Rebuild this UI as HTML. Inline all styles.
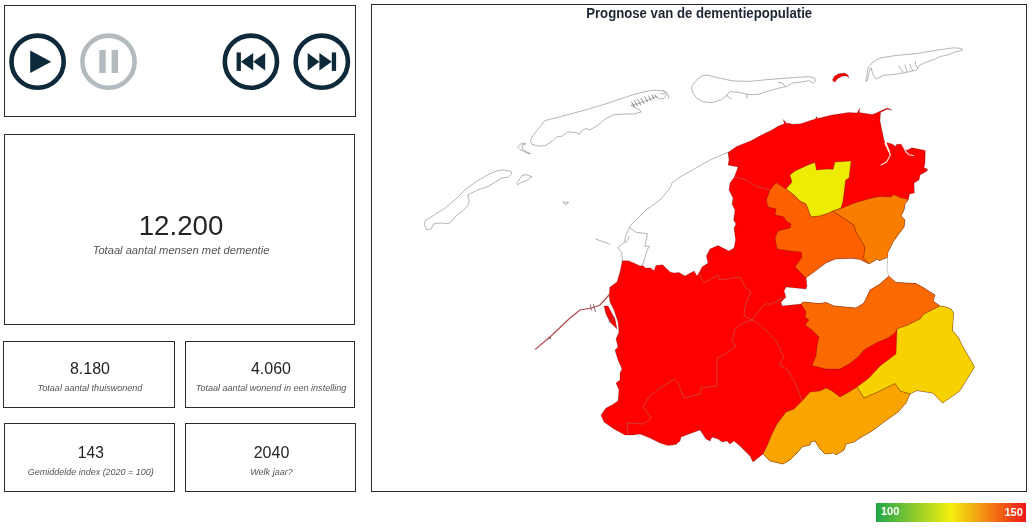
<!DOCTYPE html>
<html><head><meta charset="utf-8">
<style>
html,body{margin:0;padding:0;background:#fff;}
body{width:1032px;height:530px;position:relative;overflow:hidden;font-family:"Liberation Sans",Arial,sans-serif;color:#252423;}
.box{position:absolute;border:1px solid #2b2b2b;box-sizing:border-box;background:#fff;}
.val{position:absolute;left:0;right:0;text-align:center;color:#252423;white-space:nowrap;}
.lab{position:absolute;left:0;right:0;text-align:center;font-style:italic;color:#555;white-space:nowrap;}
svg{position:absolute;left:0;top:0;}
</style></head><body>
<div class="box" style="left:4px;top:5px;width:352px;height:112px;"></div>
<div class="box" style="left:4px;top:134px;width:351px;height:191px;">
  <div class="val" style="top:74.5px;left:3px;font-size:27.7px;line-height:32px;">12.200</div>
  <div class="lab" style="top:108.4px;left:3px;font-size:11.15px;line-height:14px;">Totaal aantal mensen met dementie</div>
</div>
<div class="box" style="left:3px;top:341px;width:172px;height:67px;">
  <div class="val" style="top:16.7px;left:2px;font-size:16px;line-height:20px;">8.180</div>
  <div class="lab" style="top:40px;left:2px;font-size:9.05px;line-height:12px;">Totaal aantal thuiswonend</div>
</div>
<div class="box" style="left:185px;top:341px;width:170px;height:67px;">
  <div class="val" style="top:16.7px;left:2px;font-size:16px;line-height:20px;">4.060</div>
  <div class="lab" style="top:40px;left:2px;font-size:9.05px;line-height:12px;">Totaal aantal wonend in een instelling</div>
</div>
<div class="box" style="left:4px;top:423px;width:171px;height:69px;">
  <div class="val" style="top:18.7px;left:2.6px;font-size:15.6px;line-height:20px;">143</div>
  <div class="lab" style="top:42px;left:2.6px;font-size:8.97px;line-height:12px;">Gemiddelde index (2020 = 100)</div>
</div>
<div class="box" style="left:185px;top:423px;width:171px;height:69px;">
  <div class="val" style="top:18.7px;left:2px;font-size:16px;line-height:20px;">2040</div>
  <div class="lab" style="top:42px;left:2px;font-size:9.05px;line-height:12px;">Welk jaar?</div>
</div>
<div class="box" style="left:371px;top:4px;width:656px;height:488px;"></div>
<div style="position:absolute;left:371px;width:656px;top:4.9px;text-align:center;font-weight:bold;font-size:14px;line-height:16px;color:#1c2733;"><span style="display:inline-block;transform:scaleX(0.94);transform-origin:50% 50%;position:relative;left:0.6px;">Prognose van de dementiepopulatie</span></div>
<div style="position:absolute;left:876px;top:503px;width:150px;height:18.5px;background:linear-gradient(90deg,#1fa64a 0%,#f5ee0e 50%,#f01818 100%);"></div>
<div style="position:absolute;left:881px;top:503px;font-size:11px;line-height:16px;font-weight:bold;color:#fff;">100</div>
<div style="position:absolute;right:9.2px;top:504px;font-size:11px;line-height:16px;font-weight:bold;color:#fff;">150</div>
<svg width="1032" height="530" viewBox="0 0 1032 530">
<g fill="none" stroke="#0e2a3a" stroke-width="4.6">
<circle cx="37.6" cy="61.7" r="26.1"/>
<circle cx="250.9" cy="61.7" r="26.1"/>
<circle cx="321.8" cy="61.7" r="26.1"/>
<circle cx="108.5" cy="61.7" r="26.1" stroke="#b3bbbf"/>
</g>
<g fill="#0e2a3a">
<path d="M30.2 50.4 L51.2 61.7 L30.2 73 Z"/>
<rect x="236.6" y="52.4" width="4.3" height="18.5"/>
<path d="M240.9 61.7 L253.2 52.9 L253.2 70.6 Z"/>
<path d="M253.2 61.7 L265.2 52.9 L265.2 70.6 Z"/>
<rect x="331.8" y="52.4" width="4.3" height="18.5"/>
<path d="M331.8 61.7 L319.4 52.9 L319.4 70.6 Z"/>
<path d="M319.4 61.7 L307.7 52.9 L307.7 70.6 Z"/>
</g>
<g fill="#b3bbbf">
<rect x="99.3" y="50" width="6.4" height="23"/>
<rect x="111.6" y="50" width="6.4" height="23"/>
</g>
</svg>
<!--MAPSTART--><svg width="1032" height="530" viewBox="0 0 1032 530">
<g stroke="#000" stroke-opacity="0.32" stroke-width="0.65" stroke-linejoin="round">
<polygon fill="#ff0000" points="728,152.4 736.6,146.5 751,140.8 761.5,135 771.9,130 778,126.3 784.3,123.7 783.3,119.5 786.5,123.4 788.5,123.2 792.6,124.2 801,123.8 808.2,121.2 815.4,119 816.5,116.4 817.3,118.6 820,118 830.7,115.2 848.4,112.6 857,113 859.8,108.3 859.2,112.6 872.2,114.5 876.4,113 882.6,109.9 887.3,108.1 892,109.9 886.8,109.3 880.5,112.6 880,120.7 881.6,129 883.7,138.4 885,143.5 887.3,142.7 892,144 895.8,146.6 896.6,144.3 901.2,144.3 903.6,148 906.7,150.5 912,147.7 925.3,150.5 925,163 924,168 927.6,169 927,171 920,175 919,180 914,183 914.4,193 909.6,194 908.4,199.6 905,204 904,210 901,216 905,220 904,227 898,235 893,242 888,252 887,257.6 886.2,270 888.3,276.6 896,282.4 916,283.6 924,288 927,290 935,295 933,301 940,306 946,307 951,309 953.6,313 952.4,330.5 958,337 963.4,347.7 972,362.4 974.5,367 967,379 959.6,391 942.6,403 932.8,393 916.8,390.6 910,394 906,403 898,412 884,422 872,431 860,438 854,442 846,444 844,450 836,455 834,453 825,454 820,449 815,441 811,442 810,445 802,447 798,452 790,460 783,464 770,461 763,454 753,462 750,456 740,446 734,441 730,444 727,441 722,442 718,439 712,437 710,441 706,439 700,430 689,434 681,437 680,441 676,444.4 668,445.6 660,443 650,438 640,434 633,435 625,435 614,429 604,422 601,415 606,408 612,405 618,401 619,390 616,383 620,380 620,373 622,369 618,360 615,350 618,347 616,339 619,332 618,322 614,310 610,302 609,295 610,287 617,282 620,272 622.3,260.8 628.3,260.8 634.9,263.5 640.2,266.1 642.8,265.4 645.4,268 650.7,268 654,270.7 656,265.4 662.6,264.8 665.9,268 670,272 674,273 679,272.4 685,276 694,271 697,276 699,273 702,267 708,263 706.4,256 710,249 718,245.6 729,251 734,248 735.6,240 734,228 736,224 733.6,220 735,210 732,204 733,198 729,190 730,183 734.4,177 738,167 728,165 729,160"/>
<polygon fill="#ff0000" points="604,306 608,306 615,319 617,329 614,326 610,322 606,314"/>
<polygon fill="#ff0000" points="832.4,80 834.6,76 838.8,73.8 844.5,73 848,75 848.8,78 847,76 843,76 838,78.2 834.6,82.3"/>
<polygon fill="#eeeb05" points="790,175 795,171 808,165 815,162.4 816.4,170 828,169 833,169.6 835,162 851,161 849,178 845.6,180 843,201 841,208 833,211 829,213 820,216 811,217 806,204 800,201 794,195 786,189 792,182"/>
<polygon fill="#fd6000" points="776,182.4 786,189 794,195 800,201 806,204 811,217 820,216 829,213 833,211 854,225 856,232 865,247 863.6,258 869,264 860,259.6 852,258.4 836,259 826,263 814,272 806,278 795,267 802,257 801,252 790,251 777,249 775,238 778,231 790,228 791,224 786,221 784,217 775,215 776,209 768,207 766.4,200 770,190"/>
<polygon fill="#f97e00" points="833,211 841,208.4 856,202.4 872,198 880,196.4 891,197 893.6,194.4 900,197.6 908.4,199.6 905,204 904,210 901,216 905,220 904,227 898,235 893,242 888,252 887.6,257.6 879,261 878,259 869,264 863.6,258 865,247 856,232 854,225"/>
<polygon fill="#ffffff" points="806,278 814,272 826,263 836,259 852,258.4 860,259.6 869,264 878,259 879,261 887.6,257.6 887,270 889,276 880,284 870,290 864,303 856,308 834,306 826,302.4 820,303.6 803,302 801,304 782,306 781,302 786,297 784,291 786,287 806,289 807,286"/>
<polygon fill="#fb6a00" points="801,304 803,302 820,303.6 826,302.4 834,306 856,308 864,303 870,290 880,284 889,276 896,282.4 916,283.6 924,288 927,290 935,295 933,301 940,306 934,309 924,314 920,319 908,325 897,329 895,333 888,338 876,343 864,350 858,357 849,364 840,369 826,369 812,365.6 816,356 817,346 819,337 812,330 805,325 809,320 805,317 806,312"/>
<polygon fill="#f7d200" points="940,306 946,307 951,309 953.6,313 952.4,330.5 958,337 963.4,347.7 972,362.4 974.5,367 967,379 959.6,391 942.6,403 932.8,393 916.8,390.6 910,394 900,391 895,383.6 878,392 864,398 857,387 869,378 880,366 896,354 897,329 908,325 920,319 924,314 934,309"/>
<polygon fill="#f9a400" points="763,454 767,446 772,434 777,424 786,412 794,409 802,401 810,392 820,391 826,388 832,391 840,397 849,392 857,387 864,398 878,392 895,383.6 900,391 910,394 906,403 898,412 884,422 872,431 860,438 854,442 846,444 844,450 836,455 834,453 825,454 820,449 815,441 811,442 810,445 802,447 798,452 790,460 783,464 770,461"/>
</g>
<g stroke="#000" stroke-opacity="0.42" stroke-width="0.7" stroke-linejoin="round">
<polygon fill="#ffffff" points="425.2,220.5 424.3,224.7 426.9,229.8 431.1,229 433.7,223.9 440.5,223 449,223.9 456.6,215.4 463.4,210.3 467.6,206 469.3,201 467.6,195 477.8,189.9 488,186.5 496.5,181.4 501.6,178 508.4,177.2 511.8,173.8 510.9,171.2 503.3,170 498.2,170.4 489.7,173.8 477.8,180.6 465.9,189 455.7,199.2 445.6,207.7 433.7,215.4"/>
<polygon fill="#ffffff" points="516.9,183 522,175.5 526.2,174.6 532,176.8 527.9,179.7 520.3,183 517.7,184.8"/>
<polygon fill="#ffffff" points="562.7,201.8 568.6,202.6 565.2,204.7"/>
<polygon fill="#ffffff" points="530.4,141 532,144.5 538.9,146.2 545.7,145.4 552.4,141 556.7,136.9 562.6,136 567.7,131.8 576.2,132.6 579.6,134.3 581.3,131 585.6,128.4 589.8,130 598.3,125 605,119 613.6,114.8 625.4,114 634,114 641,112 640,110 637,108.5 631,105.5 640,103 648,100 656,96.5 658.6,99.1 663.7,98.3 666.2,96.1 665.8,93.6 662.8,90.6 655.2,90.2 647.6,91 634,94.4 617,100 611.9,102 586.4,109.7 560.9,116.5 544.8,120.7 538,129.2 532,136.9"/>
<polygon fill="#ffffff" points="517.6,147 521,143.7 526.1,143.7 521.9,145.4 522.7,149.6 530.4,153.9 527,153 520.2,149.6"/>
<polygon fill="#ffffff" points="691.7,86.5 692.5,92.4 696.8,98.4 703.6,101.8 712,102.6 720.6,100 726.5,95.8 729.9,91.6 739.2,92.4 747.7,94.5 757.9,94.5 766.4,91.6 778.3,88.2 786.8,86.5 791.9,83.1 800.4,82.3 808.8,80.6 813.1,83.1 815.3,81.4 814.8,78 808.8,76.7 791.9,77.7 766.4,79.7 749.4,81.4 732.4,80.9 718.9,78 707,75 701.9,75.8 695.9,80.6"/>
<polygon fill="#ffffff" points="865.8,81.3 868.1,67.7 872.6,62.4 880.2,57.9 895.2,55.6 917.9,53.4 940.5,49.6 954.1,47.8 961.6,48.4 962.4,50.4 955.6,51.9 948,54.9 940.5,56.4 934.5,59.4 925.4,62.4 919.4,65.4 916.4,70 910.3,71.5 902.8,73 893.7,74.5 884.7,75.2 880.2,76.8 876.4,79 872.6,73.7 871.1,67.7 869.6,70.7 867.3,80.5"/>
</g>
<g fill="none" stroke="#000" stroke-opacity="0.42" stroke-width="0.7" stroke-linejoin="round" stroke-linecap="round">
<polyline points="728,152.4 712,159 694,169 680,177 672,183 670,188 660,200 646,210 636,220 632.2,223.2 629,228.5 625.6,236.4 624.3,242.3 617.7,247.6 621.7,252.2 622.3,260.8"/>
<polyline points="629.6,227.8 636.2,232.4 647.4,233.5 646.8,237.7 644.8,246.3 649.4,246.3 647.4,249.6 642.8,264.5"/>
<polyline points="625.5,243 627.5,240 629,236.5"/>
<polyline points="595.6,239 609.6,244"/>
<polyline points="726.5,95.5 731.6,98.9"/>
<polyline points="746.9,94.5 746.9,98.4"/>
<polyline points="778.3,82.3 782.5,83.1 785,86.5"/>
<polyline points="662.8,90.6 667,92.7 668.8,96.1 668,98.7"/>
<polyline points="660.3,93.6 664.5,94"/>
<polyline points="898.3,66.2 901,69 903,72"/>
<polyline points="905,65 906,69 907,72"/>
<polyline points="910,64 911,68 913,70.5"/>
<polyline points="915,61 916,66 918,68"/>
</g>
<g fill="none" stroke="#cc4638" stroke-width="0.95" stroke-linejoin="round" stroke-linecap="round">
<polyline points="734.4,177 744,179 756,186 766,189 770,190"/>
<polyline points="699,273 704,283 718,275 720,280 740,277 746,288 751,292 745,306 744,316 752,320"/>
<polyline points="784,297 772,304 765,304 756,314 752,320"/>
<polyline points="752,320 743,323 735,329 732,341 736,346 725,354 717,358 717,386 701,387.5 700,394 684,398 678,383 674,379.6 660,388 649,397 643,407 651,418 644,424 627,423 628,435"/>
<polyline points="752,320 756,322 767,331 776,341 784,357 779,365 787,369 795,382 801,398 802,401"/>
</g>
<g fill="none" stroke="#000" stroke-opacity="0.55" stroke-width="0.8" stroke-linecap="round">
<polyline points="631.5,102 634.5,107"/>
<polyline points="634.5,100.5 637.5,106"/>
<polyline points="637.5,99.5 641,105"/>
<polyline points="641,98.5 644,103.5"/>
<polyline points="645,97 647.5,102"/>
<polyline points="648.5,96 651,100.5"/>
<polyline points="652,95 654,99"/>
<polyline points="654,94.5 657.5,97.5"/>
</g>
<polyline fill="none" stroke="#b4474a" stroke-width="1.2" points="609,295 600,305 592,308 580,310 570,318 550,337 535,349.6"/>
<g fill="none" stroke="#8c5a5a" stroke-width="0.9"><polyline points="590.3,304.5 591.6,310.5"/><polyline points="593.3,304 595.6,312"/><polyline points="548.5,336.8 551,339"/><polyline points="548.6,339 551,336.8"/><polyline points="608.5,322.5 615,317"/></g>
<polyline fill="none" stroke="#fff" stroke-width="1.8" stroke-linecap="round" points="885.6,143.2 887.3,147 889,151"/>
<g fill="none" stroke="#ffe6e6" stroke-width="1.1" stroke-linejoin="round" stroke-linecap="round">
<polyline points="885,143.5 888.8,151 890.4,155 886.5,162 881,165"/>
<polyline points="902.4,145 905.7,151.5 909,154.8 913.6,155.5"/>
</g>
</svg><!--MAPEND-->
</body></html>
